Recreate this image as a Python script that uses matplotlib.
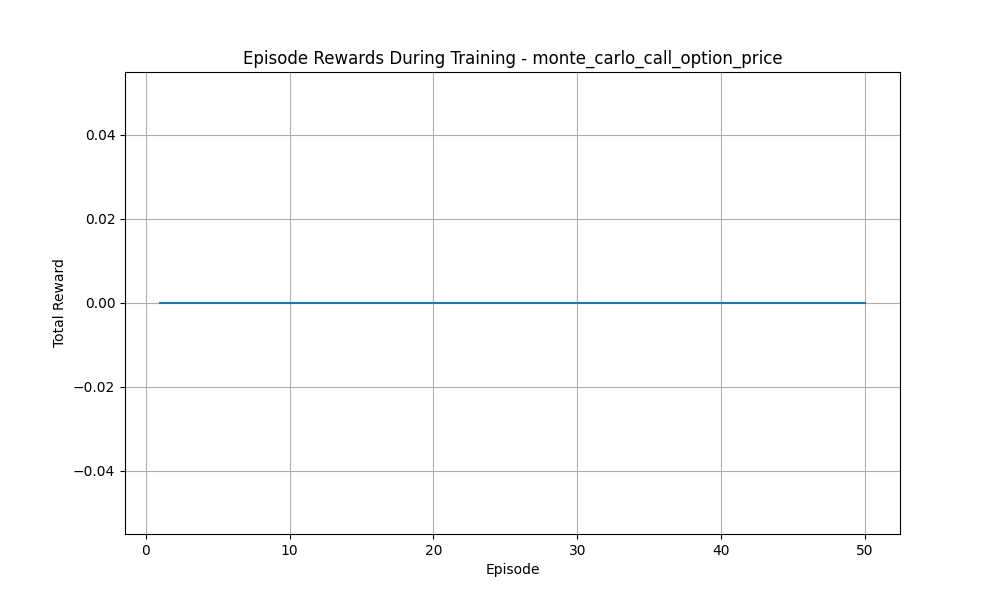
import matplotlib
matplotlib.use("Agg")
import matplotlib.pyplot as plt

# episode index and total reward per episode (every episode scored 0)
episodes = [1, 2, 3, 4, 5, 6, 7, 8, 9, 10,
            11, 12, 13, 14, 15, 16, 17, 18, 19, 20,
            21, 22, 23, 24, 25, 26, 27, 28, 29, 30,
            31, 32, 33, 34, 35, 36, 37, 38, 39, 40,
            41, 42, 43, 44, 45, 46, 47, 48, 49, 50]
rewards = [0.0, 0.0, 0.0, 0.0, 0.0, 0.0, 0.0, 0.0, 0.0, 0.0,
           0.0, 0.0, 0.0, 0.0, 0.0, 0.0, 0.0, 0.0, 0.0, 0.0,
           0.0, 0.0, 0.0, 0.0, 0.0, 0.0, 0.0, 0.0, 0.0, 0.0,
           0.0, 0.0, 0.0, 0.0, 0.0, 0.0, 0.0, 0.0, 0.0, 0.0,
           0.0, 0.0, 0.0, 0.0, 0.0, 0.0, 0.0, 0.0, 0.0, 0.0]

plt.figure(figsize=(10, 6))
plt.plot(episodes, rewards)
plt.xlabel("Episode")
plt.ylabel("Total Reward")
plt.title("Episode Rewards During Training - monte_carlo_call_option_price")
plt.grid(True)
plt.savefig("out.png", dpi=100)
plt.close()
